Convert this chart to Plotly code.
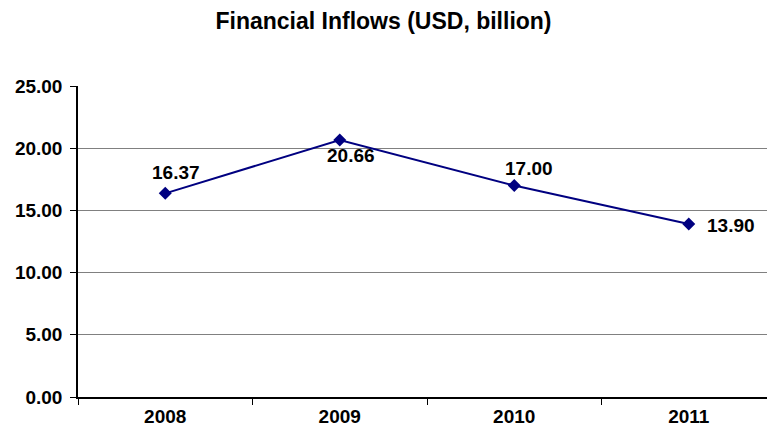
import plotly.graph_objects as go

years = ["2008", "2009", "2010", "2011"]
inflows = [16.37, 20.66, 17.00, 13.90]
y_ticks = [0, 5, 10, 15, 20, 25]
# label offsets in pixels (dx, dy) relative to each marker
label_dx = [11, 11, 15, 42]
label_dy = [21, -16, 17, -1]

FONT = "Liberation Sans, Arial, sans-serif"
NAVY = "#000080"

fig = go.Figure()
fig.add_trace(go.Scatter(
    x=years, y=inflows, mode="lines+markers",
    line=dict(color=NAVY, width=2),
    marker=dict(symbol="diamond", size=10, color=NAVY),
    cliponaxis=False, hoverinfo="x+y",
))

# value labels; x given as category index
for i, (v, dx, dy) in enumerate(zip(inflows, label_dx, label_dy)):
    fig.add_annotation(
        x=i, y=v, xref="x", yref="y", text=f"<b>{v:.2f}</b>", showarrow=False,
        xshift=dx, yshift=dy,
        font=dict(family=FONT, size=19, color="#000000"),
    )

fig.update_layout(
    width=767, height=428,
    margin=dict(l=78, r=0, t=86, b=31, autoexpand=False),
    paper_bgcolor="white", plot_bgcolor="white",
    showlegend=False,
    title=dict(
        text="<b>Financial Inflows (USD, billion)</b>",
        x=0.5, xanchor="center", y=1 - 21 / 428, yanchor="middle",
        font=dict(family=FONT, size=23, color="#000000"),
    ),
)

fig.update_xaxes(
    type="category", range=[-0.5, 3.5 - 9 / 174.5],
    automargin=False,
    tickson="boundaries", ticks="outside", ticklen=6, tickcolor="#000000",
    ticklabelstandoff=1,
    showline=True, linecolor="#000000", linewidth=1.5,
    showgrid=False, zeroline=False,
    tickfont=dict(family=FONT, size=19, color="#000000"),
    tickprefix="<b>", ticksuffix="</b>",
)

fig.update_yaxes(
    range=[0, 25], tickvals=y_ticks,
    ticktext=[f"<b>{t:.2f}</b>" for t in y_ticks],
    automargin=False,
    ticks="outside", ticklen=6, tickcolor="#000000",
    ticklabelstandoff=4,
    showline=True, linecolor="#000000", linewidth=1.5,
    showgrid=True, gridcolor="#808080", gridwidth=1.3,
    zeroline=False,
    tickfont=dict(family=FONT, size=19, color="#000000"),
)

fig.write_html("out.html")
